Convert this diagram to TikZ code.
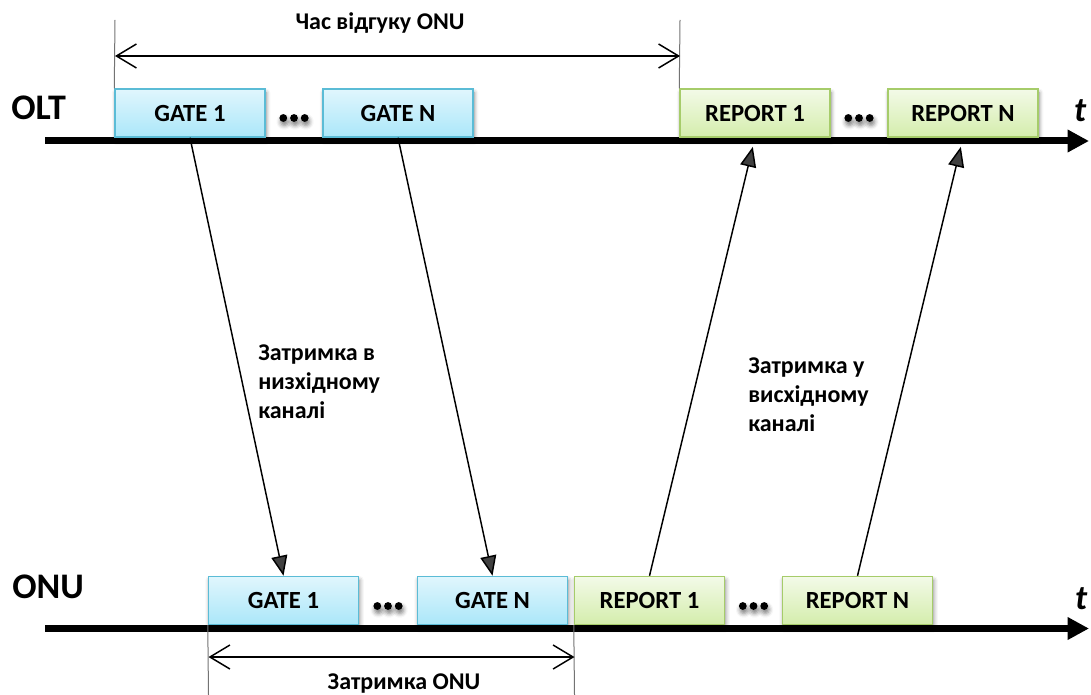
\documentclass[tikz,border=0pt]{standalone}
\usepackage{fontspec}
\setmainfont{Carlito}
\usetikzlibrary{arrows.meta,shadows.blur,calc}

\definecolor{gatetop}{HTML}{E0F6FD}
\definecolor{gatebot}{HTML}{ABE7F9}
\definecolor{gateline}{HTML}{5BBCD6}
\definecolor{reptop}{HTML}{F3FAE8}
\definecolor{repbot}{HTML}{D4EDAC}
\definecolor{repline}{HTML}{A6CC6A}

\tikzset{
  softshadow/.style={blur shadow={shadow xshift=0.8pt, shadow yshift=-2.8pt,
      shadow blur radius=3.2pt, shadow opacity=50}},
  msgbox/.style={minimum width=112.5pt, minimum height=36pt, inner sep=0pt,
      line width=1.1pt, font=\bfseries\fontsize{18.5}{20}\selectfont, softshadow},
  gatebox/.style={msgbox, draw=gateline, top color=gatetop, bottom color=gatebot},
  reportbox/.style={msgbox, draw=repline, top color=reptop, bottom color=repbot},
  axisline/.style={line width=5.25pt, -{Triangle[length=16pt,width=16pt]}},
  msgarrow/.style={line width=1.1pt, -{Triangle[length=15pt,width=12pt]}},
  dimarrow/.style={line width=1.1pt,
      {Straight Barb[length=15pt,width=18pt]}-{Straight Barb[length=15pt,width=18pt]}},
  tickline/.style={line width=0.75pt, black!55},
  sidelabel/.style={font=\bfseries\fontsize{27}{29}\selectfont, inner sep=0pt},
  timelabel/.style={font=\bfseries\itshape\fontsize{26}{28}\selectfont, inner sep=0pt},
  textlabel/.style={font=\bfseries\fontsize{18}{21.5}\selectfont, inner sep=0pt},
  dotmark/.style={fill=black, softshadow},
}

\begin{document}
\begin{tikzpicture}[x=0.75pt, y=-0.75pt]
\useasboundingbox (0,0) rectangle (1091,695);

% time axes
\coordinate (oltA) at (45,141);
\coordinate (oltB) at (1089,141);
\coordinate (onuA) at (45,628.5);
\coordinate (onuB) at (1089,628.5);
\draw[axisline] (oltA) -- (oltB);
\draw[axisline] (onuA) -- (onuB);

% axis names
\node[sidelabel, anchor=base west] (oltname) at (11,120) {OLT};
\node[sidelabel, anchor=base west] (onuname) at (12,598) {ONU};
\node[timelabel, anchor=base] (tolt) at (1080,122) {t};
\node[timelabel, anchor=base] (tonu) at (1081,609.5) {t};

% OLT frames
\node[gatebox]   (oltg1) at (190,113) {GATE 1};
\node[gatebox]   (oltgn) at (398,113) {GATE N};
\node[reportbox] (oltr1) at (755,113) {REPORT 1};
\node[reportbox] (oltrn) at (963,113) {REPORT N};

% ONU frames
\node[gatebox]   (onug1) at (283.5,600.5) {GATE 1};
\node[gatebox]   (onugn) at (492.5,600.5) {GATE N};
\node[reportbox] (onur1) at (649.5,600.5) {REPORT 1};
\node[reportbox] (onurn) at (857.5,600.5) {REPORT N};

% ellipsis marks between frames
\foreach \cx/\cy in {294/118, 859/118, 388/606, 753.5/606}
  \foreach \d in {-10.7,0,10.7}
    \fill[dotmark] (\cx+\d,\cy) circle[radius=3.9];

% propagation arrows
\draw[msgarrow] (oltg1.south) -- (onug1.north);
\draw[msgarrow] (oltgn.south) -- (onugn.north);
\draw[msgarrow, shorten >=7pt] (onur1.north) -- (oltr1.south);
\draw[msgarrow, shorten >=7pt] (onurn.north) -- (oltrn.south);

% ONU response time
\coordinate (tickTL) at (115,20);
\coordinate (tickTR) at (680,20);
\coordinate (respL) at (115,56);
\coordinate (respR) at (680,56);
\draw[tickline] (tickTL) -- (oltg1.north west);
\draw[tickline] (tickTR) -- (oltr1.north west);
\draw[dimarrow] (respL) -- (respR);
\node[textlabel, anchor=base] (resplbl) at (380,30) {Час відгуку ONU};

% ONU processing delay
\coordinate (tickBL) at (208.5,695);
\coordinate (tickBR) at (574.5,695);
\coordinate (delL) at (208.5,657);
\coordinate (delR) at (574.5,657);
\draw[tickline] (onug1.south west) -- (tickBL);
\draw[tickline] (onur1.south west) -- (tickBR);
\draw[dimarrow] (delL) -- (delR);
\node[textlabel, anchor=base] (dellbl) at (404,689) {Затримка ONU};

% channel delay notes
\node[textlabel, align=left, anchor=north west] (downlbl) at (258,345)
  {Затримка в\\низхідному\\каналі};
\node[textlabel, align=left, anchor=north west] (uplbl) at (748,358)
  {Затримка у\\висхідному\\каналі};
\end{tikzpicture}
\end{document}
